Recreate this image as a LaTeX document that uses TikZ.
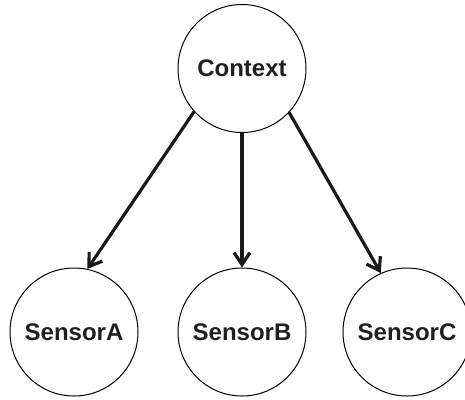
\documentclass[tikz,border=0pt]{standalone}
\usepackage{fontspec}
\setmainfont{Liberation Sans}
\usetikzlibrary{arrows.meta}
\begin{document}
\begin{tikzpicture}[x=1pt,y=-1pt,
  vnode/.style={circle,draw=black,line width=1pt,minimum size=128pt,inner sep=0pt,font=\fontsize{24}{26}\selectfont\bfseries,text=black!88},
  edge/.style={line width=3.2pt,draw=black!90,-{Straight Barb[length=12pt,width=16pt,line width=3.2pt]}}]
\useasboundingbox (0,0) rectangle (465,399);
\node[vnode] (ctx) at (242,68.5) {Context};
\node[vnode] (a) at (74,332) {SensorA};
\node[vnode] (b) at (242,332) {SensorB};
\node[vnode] (c) at (407,332) {SensorC};
\draw[edge] (ctx.222) -- (a.78);
\draw[edge] (ctx.270) -- (b.90);
\draw[edge] (ctx.317) -- (c.114);
\end{tikzpicture}
\end{document}
